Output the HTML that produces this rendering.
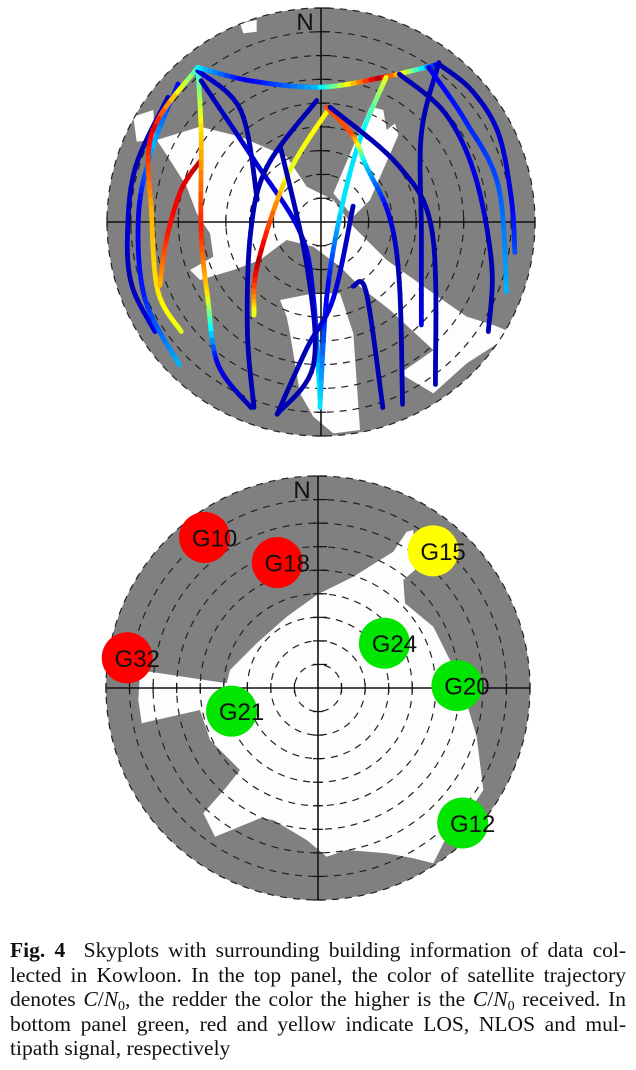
<!DOCTYPE html>
<html><head><meta charset="utf-8">
<style>
html,body{margin:0;padding:0;background:#fff;}
body{width:636px;height:1070px;position:relative;overflow:hidden;}
#cap{position:absolute;left:10px;top:938px;width:616px;font-family:"Liberation Serif",serif;font-size:21.5px;line-height:24.6px;color:#111;}
#cap .ln{text-align:justify;text-align-last:justify;white-space:nowrap;height:24.6px;}
#cap .last{text-align-last:left;}
#cap sub{font-size:14px;line-height:0;vertical-align:-4px;}
svg{position:absolute;left:0;top:0;}
</style></head>
<body>
<svg id="fig" width="636" height="930"></svg>
<div id="cap">
<div class="ln"><b>Fig. 4</b>&nbsp; Skyplots with surrounding building information of data col-</div>
<div class="ln">lected in Kowloon. In the top panel, the color of satellite trajectory</div>
<div class="ln">denotes <i>C</i>/<i>N</i><sub>0</sub>, the redder the color the higher is the <i>C</i>/<i>N</i><sub>0</sub> received. In</div>
<div class="ln">bottom panel green, red and yellow indicate LOS, NLOS and mul-</div>
<div class="ln last">tipath signal, respectively</div>
</div>
<script>
// ---- Bottom panel data ----
const satLabels = ["G10","G18","G32","G21","G24","G20","G15","G12"];
const satAz = [323,342,279,255,56,89,40,133];
const satEl = [10,34,8,52,56,31,14,6];
const satStatus = ["NLOS","NLOS","NLOS","LOS","LOS","LOS","MP","LOS"];
// ---- Top panel tracks: east/north in percent of horizon radius, C/N0 normalized 0..1 ----
const trackE = [
 [-71.5,-86.6,-90.4,-88.4,-77.6],
 [-66.8,-79.1,-85.3,-82.3,-66.2],
 [-57.6,-79.1,-79.1,-76.1,-65.3],
 [-56,-65.3,-72.2,-75.3],
 [-57.6,-56,-56,-52.9,-48.1,-32.7],
 [-57.6,-37.5,-29.8],
 [55.1,46.9,46.9,46.9],
 [-57.6,-32.9,-0.5,28.9,55.1],
 [55.1,70.5,82.9,89,90.6],
 [50.3,67.3,82.9,86.7],
 [36.6,58.2,72.1,79.8,78.2],
 [-56,-31.3,-9.7,-3.5,-0.5],
 [-2,-25.2,-32.9,-34.4,-31.3],
 [4.2,-15.9,-29.8,-31.3],
 [30.4,18.1,8.8,2.6,-0.5],
 [2.6,15,21.1,31.9,36.6,38.1],
 [4.2,36.6,52,53.5],
 [-19,-6.6,-3.5,-20.5],
 [15,21.1,28.9],
 [-20.5,-6.6,5.7,15]
];
const trackN = [
 [58.3,25.9,-4.9,-29.6,-51.2],
 [64.5,33.6,2.8,-35.8,-66.7],
 [72.2,41.4,2.8,-32.7,-51.2],
 [29,15.1,-8,-29.6],
 [72.2,41.4,-4.9,-35.8,-66.7,-86.7],
 [70.7,52.2,10.5],
 [74.5,41.4,-4.9,-48.1],
 [72.2,66,63,67.6,73.8],
 [73.8,61.4,41.4,10.5,-14.2],
 [72.2,47.5,16.7,-32.7],
 [69.1,50.6,21.3,-20.4,-51.2],
 [66,29,-4.9,-35.8,-82.9],
 [56.8,25.9,-4.9,-51.2,-86.7],
 [53.7,21.3,-20.4,-43.5],
 [67.6,38.3,2.8,-35.8,-86.7],
 [53.7,40.1,26.2,2.8,-28.1,-85.2],
 [53.7,25.9,-4.9,-75.9],
 [35.2,-20.4,-66.7,-89.8],
 [-30,-32.7,-86.7],
 [-89.8,-59,-35.8,7.4]
];
const trackCN0 = [
 [0.05,0.05,0.08,0.05,0.1],
 [0.1,0.3,0.1,0.15,0.3],
 [0.35,0.9,0.7,0.65,0.6],
 [0.95,0.9,0.85,0.7],
 [0.35,0.65,0.85,0.65,0.1,0.05],
 [0.1,0.05,0.05],
 [0.08,0.05,0.05,0.1],
 [0.4,0.1,0.3,0.95,0.1],
 [0.05,0.05,0.08,0.1,0.2],
 [0.1,0.15,0.2,0.3],
 [0.05,0.05,0.1,0.05,0.05],
 [0.05,0.08,0.1,0.1,0.4],
 [0.05,0.05,0.05,0.05,0.05],
 [0.65,0.6,0.95,0.6],
 [0.65,0.35,0.35,0.1,0.35],
 [0.8,0.8,0.35,0.1,0.05,0.05],
 [0.05,0.05,0.05,0.05],
 [0.05,0.05,0.05,0.05],
 [0.05,0.05,0.05],
 [0.05,0.05,0.1,0.05]
];

const NS="http://www.w3.org/2000/svg";
const svg=document.getElementById('fig');
function mk(tag,attrs,parent){const e=document.createElementNS(NS,tag);for(const k in attrs)e.setAttribute(k,attrs[k]);(parent||svg).appendChild(e);return e;}

const topP={cx:321,cy:222,r:214};
const botP={cx:318,cy:688,r:212};
function polar(p,az,el){const d=(90-el)/90*p.r;const a=az*Math.PI/180;return [p.cx+d*Math.sin(a),p.cy-d*Math.cos(a)];}
function enX(p,e){return p.cx+e/100*p.r;}
function enY(p,n){return p.cy-n/100*p.r;}

function jet(v){
  const r=Math.min(1,Math.max(0,1.5-Math.abs(4*v-3)));
  const g=Math.min(1,Math.max(0,1.5-Math.abs(4*v-2)));
  const b=Math.min(1,Math.max(0,1.5-Math.abs(4*v-1)));
  return `rgb(${Math.round(r*255)},${Math.round(g*255)},${Math.round(b*255)})`;
}

function grid(p,g){
  for(let k=1;k<=9;k++){
    const c=mk('circle',{cx:p.cx,cy:p.cy,r:p.r*k/9,fill:'none',stroke:'#222','stroke-width':1.2,'stroke-dasharray':'7 6'},g);
    
    
  }
  const h=mk('line',{x1:p.cx-p.r,y1:p.cy,x2:p.cx+p.r,y2:p.cy,stroke:'#111','stroke-width':1.6},g);
  
  
  const v=mk('line',{x1:p.cx,y1:p.cy-p.r,x2:p.cx,y2:p.cy+p.r,stroke:'#111','stroke-width':1.6},g);
  
  
  for(let k=1;k<=9;k++){
    const d=p.r*k/9;
    mk('line',{x1:p.cx-5,y1:p.cy-d,x2:p.cx+9,y2:p.cy-d,stroke:'#111','stroke-width':1.2},g);
    mk('line',{x1:p.cx-5,y1:p.cy+d,x2:p.cx+5,y2:p.cy+d,stroke:'#111','stroke-width':1.2},g);
    mk('line',{x1:p.cx-d,y1:p.cy-5,x2:p.cx-d,y2:p.cy+5,stroke:'#111','stroke-width':1.2},g);
    mk('line',{x1:p.cx+d,y1:p.cy-5,x2:p.cx+d,y2:p.cy+5,stroke:'#111','stroke-width':1.2},g);
  }
  const t=mk('text',{x:p.cx-16,y:p.cy-p.r+22,'font-family':'Liberation Sans, sans-serif','font-size':24,fill:'#111','text-anchor':'middle'},g);
  t.textContent='N';
  
  
}

const defs=mk('defs',{});
const cpt=mk('clipPath',{id:'ct'},defs);
mk('circle',{cx:topP.cx,cy:topP.cy,r:topP.r},cpt);
const cpb=mk('clipPath',{id:'cb'},defs);
mk('circle',{cx:botP.cx,cy:botP.cy,r:botP.r},cpb);

// ---------- TOP PANEL ----------
const gT=mk('g',{});


const bgT=mk('circle',{cx:topP.cx,cy:topP.cy,r:topP.r,fill:'#808080'},gT);


function zT(pts){return pts.map(q=>[(q[0]/3+100),(q[1]/3)].join(',')).join(' ');}
const openT=[
 [[170,420],[300,380],[420,410],[560,470],[620,560],[700,600],[760,680],[860,780],[1000,880],[1100,950],[1180,975],[1240,1000],[1100,1090],[1060,1120],[1000,1050],[870,930],[780,860],[720,800],[640,740],[560,720],[480,780],[400,810],[300,840],[270,810],[340,770],[330,700],[290,640],[260,560],[210,480]],
 [[540,900],[640,880],[720,880],[760,1000],[780,1290],[700,1300],[640,1250],[600,1180],[570,1000],[560,950]],
 [[700,580],[810,320],[850,330],[860,390],[885,370],[895,405],[810,600],[760,650]],
 [[100,350],[160,330],[165,420],[110,425]],
 [[900,1120],[1030,1030],[1100,1090],[1000,1180]],
 [[420,70],[470,60],[470,95],[430,100]]
];
const cg=mk('g',{'clip-path':'url(#ct)'},gT);
openT.forEach(pp=>{
  const e=mk('polygon',{points:zT(pp),fill:'#fdfdfd'},cg);
  
  
});
grid(topP,gT);
function cr(p0,p1,p2,p3,t){const t2=t*t,t3=t2*t;return 0.5*((2*p1)+(-p0+p2)*t+(2*p0-5*p1+4*p2-p3)*t2+(-p0+3*p1-3*p2+p3)*t3);}
const tg=mk('g',{},gT);


for(let i=0;i<trackE.length;i++){
  const E=trackE[i],N=trackN[i],V=trackCN0[i];
  const g=mk('g',{},tg);
  
  
  const n=E.length;
  let prev=null;
  for(let s=0;s<n-1;s++){
    const a=Math.max(0,s-1),b=s,c=s+1,d=Math.min(n-1,s+2);
    for(let k=0;k<=10;k++){
      const t=k/10;
      const x=enX(topP,cr(E[a],E[b],E[c],E[d],t));
      const y=enY(topP,cr(N[a],N[b],N[c],N[d],t));
      const v=V[b]+(V[c]-V[b])*t;
      if(prev){mk('line',{x1:prev[0],y1:prev[1],x2:x,y2:y,stroke:jet(v),'stroke-width':4.8,'stroke-linecap':'round'},g);}
      prev=[x,y];
    }
  }
}

// ---------- BOTTOM PANEL ----------
const gB=mk('g',{});


const bgB=mk('circle',{cx:botP.cx,cy:botP.cy,r:botP.r,fill:'#808080'},gB);


const openB=[[318.3,594],[353.3,576.7],[393.3,551.7],[406.7,531.7],[413.3,530],[415,570],[403.3,580],[405,603.3],[433.3,626.7],[458.3,676.7],[466.7,703.3],[476.7,736.7],[483.3,790],[476.7,800],[446.7,836.7],[433.3,863.3],[413.3,858.3],[386.7,853.3],[346.7,850],[326.7,856.7],[306.7,840],[273.3,820],[260,818.3],[215,836.7],[203.3,813.3],[226.7,786.7],[240,770],[210,740],[200,710],[141.7,723.3],[138.3,700],[140,673.3],[150,671.7],[226.7,683.3],[230,670],[256.7,643.3],[286.7,616.7]];
const cgb=mk('g',{'clip-path':'url(#cb)'},gB);
const ob=mk('polygon',{points:openB.map(q=>q.join(',')).join(' '),fill:'#fdfdfd'},cgb);


grid(botP,gB);
const statusColor={LOS:'#00e600',NLOS:'#ff0000',MP:'#ffff00'};
for(let i=0;i<satLabels.length;i++){
  const [x,y]=polar(botP,satAz[i],satEl[i]);
  const g=mk('g',{},gB);
  
  
  mk('circle',{cx:x,cy:y,r:25.5,fill:statusColor[satStatus[i]]},g);
  const t=mk('text',{x:x+10,y:y+9,'font-family':'Liberation Sans, sans-serif','font-size':24,fill:'#111','text-anchor':'middle'},g);
  t.textContent=satLabels[i];
}
</script>
</body></html>
